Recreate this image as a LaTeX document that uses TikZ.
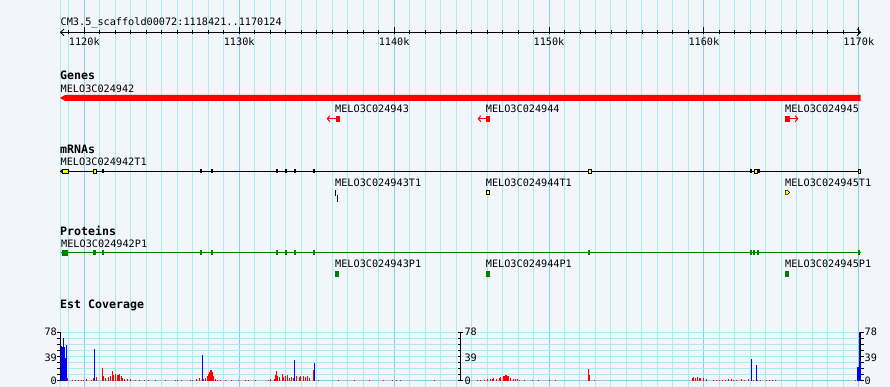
\documentclass[tikz,border=0pt]{standalone}
\usepackage{fontspec}
\setmonofont{DejaVu Sans Mono}
\usepackage{tikz}
\usetikzlibrary{arrows.meta}
\definecolor{panelbg}{RGB}{242,245,250}
\definecolor{gridminor}{RGB}{170,235,240}
\definecolor{gridmajor}{RGB}{140,205,235}
\definecolor{protgreen}{RGB}{0,128,0}
\definecolor{exonyellow}{RGB}{255,255,0}

\begin{document}
\begin{tikzpicture}[x=1pt,y=-1pt,
    lbl/.style={anchor=base west,inner sep=0pt,font=\ttfamily\fontsize{10.2}{12}\selectfont},
    ttl/.style={anchor=base west,inner sep=0pt,font=\ttfamily\bfseries\fontsize{11.6}{13}\selectfont},
    exonbox/.style={fill=exonyellow,draw=black,line width=0.55pt},
    cdsmark/.style={fill=black},
    protmark/.style={fill=protgreen},
    geneglyph/.style={red,line width=1pt,-{Straight Barb[length=2.5pt,width=6pt]}},
    covaxis/.style={black,line width=0.9pt}]
                \def\xo{84.3}
                \def\kb{15.49}
                \def\cz{380.7}
                \useasboundingbox (0,0) rectangle (890,387);
                \fill[panelbg] (0,0) rectangle (890,387);
                % Grid lines
                \draw[gridminor,line width=1pt] (60,0) -- (60,387);
                \foreach \k in {1119,...,1170} {
                    \draw[gridminor,line width=1pt] ({\xo+(\k-1120)*\kb},0) -- ++(0,387);
                }
                \foreach \k in {1120,1130,...,1170} {
                    \draw[gridmajor,line width=1pt] ({\xo+(\k-1120)*\kb},0) -- ++(0,387);
                }
                % Coverage grid lines
                \foreach \j in {0,...,7} {
                    \draw[gridminor,line width=1pt] (60,{332.3+\j*6.05}) -- (860.7,{332.3+\j*6.05});
                }
                \draw[gridmajor,line width=1pt] (60,\cz) -- (860.7,\cz);
                % Ruler
                \node[lbl] (scaffold) at (60.5,25.3) {CM3.5\_scaffold00072:1118421..1170124};
                \draw[black,line width=1.1pt] (60.5,32.3) -- (860.5,32.3);
                \draw[black,line width=0.9pt] (64,29) -- (60.5,32.3) -- (64,35.6);
                \draw[black,line width=0.9pt] (857,28.8) -- (860.5,32.3) -- (857,35.8);
                \foreach \k in {1119,...,1170} {
                    \draw[black,line width=0.9pt] ({\xo+(\k-1120)*\kb},30.2) -- ++(0,4.3);
                }
                \foreach \k in {1120,1130,...,1170} {
                    \draw[black,line width=0.9pt] ({\xo+(\k-1120)*\kb},27.5) -- ++(0,7);
                    \node[lbl,anchor=base] (tick\k) at ({\xo+(\k-1120)*\kb},46) {\k k};
                }
                % Genes
                \node[ttl] (genes) at (60,80) {Genes};
                \node[lbl] (g942) at (60.5,92.3) {MELO3C024942};
                \fill[red] (60,98) -- (65,95) -- (860.7,95) -- (860.7,101) -- (65,101) -- cycle;
                \node[lbl] (g943) at (335,112.7) {MELO3C024943};
                \node[lbl] (g944) at (485.7,112.7) {MELO3C024944};
                \node[lbl] (g945) at (785,112.7) {MELO3C024945};
                \fill[red] (335.7,115.7) rectangle (339.5,121.7);
                \draw[geneglyph] (336,118.7) -- (326.7,118.7);
                \fill[red] (486.3,115.7) rectangle (490,121.7);
                \draw[geneglyph] (486.6,118.7) -- (477.7,118.7);
                \fill[red] (785,115.7) rectangle (789.7,121.7);
                \draw[geneglyph] (789.5,118.7) -- (798.3,118.7);
                % mRNAs
                \node[ttl] (mrnas) at (60,154) {mRNAs};
                \node[lbl] (t942) at (60.5,166) {MELO3C024942T1};
                \draw[black,line width=1pt] (60.5,171.3) -- (860.5,171.3);
                \draw[black,line width=0.9pt] (63,169.3) -- (60.5,171.3) -- (63,173.3);
                \filldraw[exonbox] (62.5,169.4) rectangle (68,173.3);
                \foreach \ex in {102.7,201,211.7,277,286,295,314,750.7,758.7} {
                    \fill[cdsmark] (\ex-0.8,169.2) rectangle (\ex+0.8,173.5);
                }
                \foreach \ea/\eb in {93.3/96.2, 587.8/590.8, 754.5/757, 858/860.6} {
                    \filldraw[exonbox] (\ea,169.4) rectangle (\eb,173.3);
                }
                \node[lbl] (t943) at (335,186.7) {MELO3C024943T1};
                \node[lbl] (t944) at (485.7,186.7) {MELO3C024944T1};
                \node[lbl] (t945) at (785,186.7) {MELO3C024945T1};
                \fill[cdsmark] (335,190) rectangle (336.4,196);
                \fill[cdsmark] (336.7,195) rectangle (338,202);
                \filldraw[exonbox] (486.7,190.3) rectangle (489.5,194.4);
                \filldraw[exonbox] (785.3,190.3) -- (787.5,190.3) -- (789.6,192.3) -- (787.5,194.4) -- (785.3,194.4) -- cycle;
                % Proteins
                \node[ttl] (proteins) at (60,235) {Proteins};
                \node[lbl] (p942) at (61,247.3) {MELO3C024942P1};
                \draw[protgreen,line width=1pt] (60.5,252.7) -- (860.5,252.7);
                \fill[protmark] (62,250) rectangle (68,255.5);
                \foreach \ex in {102.7,201,211.7,277,286,295,314,588.8,750.7,754.3,757.9,858.6} {
                    \fill[protmark] (\ex-1,250.2) rectangle (\ex+1,255.3);
                }
                \fill[protmark] (93.3,250.2) rectangle (96,255.3);
                \node[lbl] (p943) at (335,267.7) {MELO3C024943P1};
                \node[lbl] (p944) at (485.7,267.7) {MELO3C024944P1};
                \node[lbl] (p945) at (785,267.7) {MELO3C024945P1};
                \foreach \px in {335.3,486.3,785} {
                    \fill[protmark] (\px,271) rectangle (\px+4,276.5);
                }
                % Est coverage
                \node[ttl] (estcov) at (60,308.3) {Est Coverage};
                \foreach \ax/\tk in {60/-2.7, 460.7/-2.5, 860.7/3.3} {
                    \draw[covaxis] (\ax,332.3) -- (\ax,\cz);
                    \foreach \j in {0,...,8} {
                        \draw[covaxis] (\ax,{332.3+\j*6.05}) -- ++(\tk,0);
                    }
                }
                \draw[covaxis] (460.7,332.3) -- ++(2.5,0);
                \draw[covaxis] (460.7,\cz) -- ++(2.5,0);
                \node[lbl,anchor=base east] (lmax) at (57,335.7) {78};
                \node[lbl,anchor=base east] (lmid) at (57,361) {39};
                \node[lbl,anchor=base east] (lmin) at (57,384) {0};
                \node[lbl] (mmax) at (464.3,335.7) {78};
                \node[lbl] (mmid) at (464.3,361) {39};
                \node[lbl] (mmin) at (464.3,384) {0};
                \node[lbl] (rmax) at (864.5,335.7) {78};
                \node[lbl] (rmid) at (864.5,361) {39};
                \node[lbl] (rmin) at (864.5,384) {0};
                % Coverage bars
                \foreach \bx/\bt in {
                    67/377.5, 72/379.5, 75/379.5, 78/379.5, 81/379.5, 83/379.5, 86/378.5, 91/379.5, 93/378, 96/376.5,
                    102/367.5, 103/375.5, 105/378, 108/377, 110/376, 111.5/371, 113/375,
                    115/373.5, 117/375, 118/374.5, 119/374, 121/376, 122/378, 124/379, 127/379,
                    130/379, 135/379.5, 139/379.5, 144/379.5,
                    148/379.5, 155/379.5, 165/379.5, 175/379.5, 177/379.5, 181/379.5, 190/379.5,
                    192/379.5, 196/379, 199/378, 203/379, 205/378, 207/376, 208/374, 209/372, 210/370, 211/369.5,
                    212/372, 213/376, 215/379, 217/379.5, 220/379.5, 225/379.5, 231/379.5, 238/379.5, 245/379.5,
                    248/379.5, 255/379.5, 268/379.5, 270/378.5, 274/378.5, 275/375, 276/371, 277/376,
                    279/377, 282/374, 283/377, 285/376, 287/375, 289/378, 291/377, 293/378,
                    296/376, 299/377, 300/376, 303/376, 305/377, 307/376, 309/378, 313/370,
                    318/379.5, 337.7/379.5, 354/379.5, 369/379.5, 383/379.5, 392/379.5, 396/379.5, 400/379.5,
                    434/379.5, 477/379.5, 480/379.5, 484/379.5, 487/379, 490/379, 492/379, 493/378,
                    496/379, 499/378, 500/377, 503/376, 504/376, 505/375, 506/374.5, 507/375.5, 508/376,
                    510/378, 513/379, 515/379, 517/379, 519/379.5, 524/379.5, 532/379.5,
                    538/379.5, 549/379.5, 555/379.5, 588/369, 589/375, 594/379.5, 692/378, 693/377, 695/378,
                    697/377, 699/377.5, 700/378, 703/378, 706/378.5, 713/379.5, 716/379.5, 719/379.5, 722/379.5,
                    725/379.5, 728/379, 731/379, 733/379.5, 736/379.5, 741/379, 744/379.5, 748/379, 751.3/368,
                    753/379.5, 757/379.5, 760/379.5, 766/379.5, 769/379.5, 772/379.5, 775/379.5, 855/379.5} {
                    \fill[red] (\bx,\cz) rectangle ({\bx+1},\bt);
                }
                \foreach \bx/\bt in {
                    60.7/345.7, 61.7/346.7, 62.7/337.7, 63.7/347, 64.7/358.3, 65.7/345,
                    94.3/349, 201.7/355, 294.3/360, 314.3/362.7, 750.7/359, 755.7/365,
                    856.7/367.3, 857.7/367.3, 858.7/332.3, 859.6/361} {
                    \fill[blue] (\bx,\cz) rectangle ({\bx+1},\bt);
                }
\end{tikzpicture}
\end{document}
